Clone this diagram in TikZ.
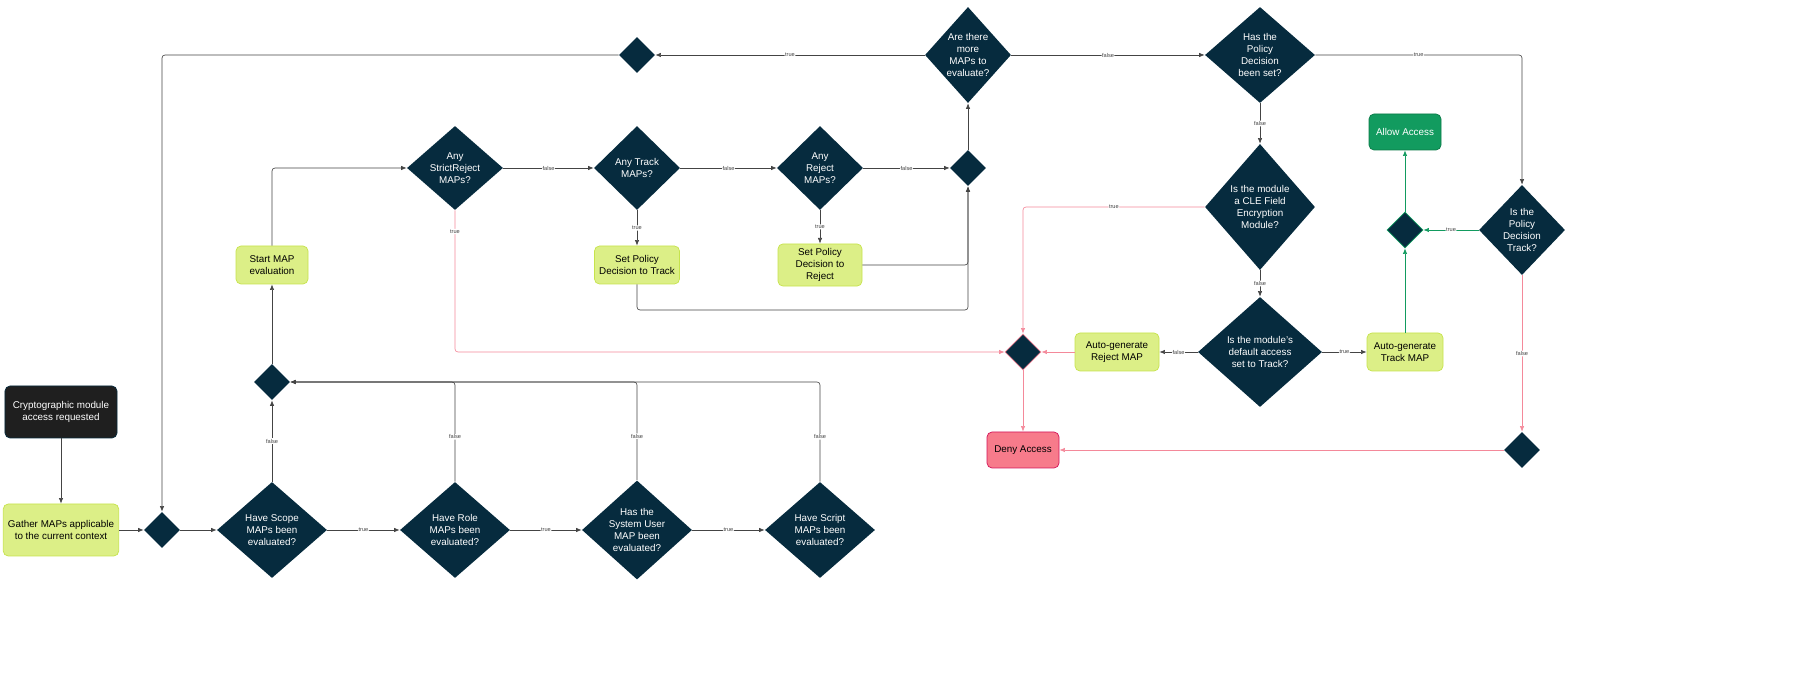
\documentclass[tikz,border=0pt]{standalone}
\usepackage{fontspec}
\setmainfont{Liberation Sans}
\usetikzlibrary{shapes.geometric,arrows.meta}
\definecolor{navy}{HTML}{062B3E}
\definecolor{lime}{HTML}{DCEF87}
\definecolor{limeb}{HTML}{C6E34C}
\definecolor{pinkl}{HTML}{F4899A}
\definecolor{rosef}{HTML}{F77B8B}
\definecolor{roseb}{HTML}{D3145A}
\definecolor{grn}{HTML}{129B5F}
\definecolor{grnb}{HTML}{0A7A48}
\definecolor{lne}{HTML}{444444}
\tikzset{
  dec/.style={diamond, fill=navy, text=white, inner sep=0pt, align=center, font=\fontsize{7}{8.4}\selectfont},
  joint/.style={diamond, fill=navy, inner sep=0pt, minimum width=9mm, minimum height=9mm},
  act/.style={rectangle, rounded corners=1.25mm, fill=lime, draw=limeb, line width=0.5pt, align=center, minimum width=21mm, minimum height=9.5mm, font=\fontsize{7}{8.4}\selectfont},
  flow/.style={draw=lne, line width=0.45pt, -{Latex[length=1.4mm,width=1.1mm]}, rounded corners=0.75mm},
  bad/.style={flow, draw=pinkl},
  good/.style={flow, draw=grn},
  lbl/.style={fill=white, inner sep=0.5pt, font=\fontsize{4}{5}\selectfont, text=lne}
}
\begin{document}
\begin{tikzpicture}[x=0.25mm,y=-0.25mm]
  \useasboundingbox (0,0) rectangle (1806,676);
  % start and gather
  \node[act, fill=black!88, draw=navy, text=white, minimum width=28mm, minimum height=13mm] (req) at (61,412) {Cryptographic module\\access requested};
  \node[act, minimum width=28mm, minimum height=13mm] (gather) at (61,530) {Gather MAPs applicable\\to the current context};
  \node[joint] (j1) at (162,530) {};
  % evaluated questions
  \node[dec, minimum width=27.5mm, minimum height=24mm] (scope) at (272,530) {Have Scope\\MAPs been\\evaluated?};
  \node[dec, minimum width=27.5mm, minimum height=24mm] (role) at (455,530) {Have Role\\MAPs been\\evaluated?};
  \node[dec, minimum width=27.5mm, minimum height=24mm] (sysuser) at (637,530) {Has the\\System User\\MAP been\\evaluated?};
  \node[dec, minimum width=27.5mm, minimum height=24mm] (script) at (820,530) {Have Script\\MAPs been\\evaluated?};
  \node[joint] (j2) at (272,382) {};
  \node[act, minimum width=18mm] (startmap) at (272,265) {Start MAP\\evaluation};
  % MAP types
  \node[dec, minimum width=24mm, minimum height=21mm] (strict) at (455,168) {Any\\StrictReject\\MAPs?};
  \node[dec, minimum width=21.5mm, minimum height=21mm] (track) at (637,168) {Any Track\\MAPs?};
  \node[dec, minimum width=21.5mm, minimum height=21mm] (reject) at (820,168) {Any\\Reject\\MAPs?};
  \node[joint] (j3) at (968,168) {};
  \node[act] (settrack) at (637,265) {Set Policy\\Decision to Track};
  \node[act] (setreject) at (820,265) {Set Policy\\Decision to\\Reject};
  \node[dec, minimum width=21.5mm, minimum height=24mm] (more) at (968,55) {Are there\\more\\MAPs to\\evaluate?};
  \node[joint] (j4) at (637,55) {};
  % policy decision
  \node[dec, minimum width=27.5mm, minimum height=24mm] (isset) at (1260,55) {Has the\\Policy\\Decision\\been set?};
  \node[dec, minimum width=27.5mm, minimum height=31.5mm] (cle) at (1260,207) {Is the module\\a CLE Field\\Encryption\\Module?};
  \node[dec, minimum width=31mm, minimum height=27.5mm] (deflt) at (1260,352) {Is the module's\\default access\\set to Track?};
  \node[act] (autorej) at (1117,352) {Auto-generate\\Reject MAP};
  \node[act, minimum width=19mm] (autotrk) at (1405,352) {Auto-generate\\Track MAP};
  \node[joint, draw=pinkl, line width=0.5pt] (j5) at (1023,352) {};
  \node[act, fill=rosef, draw=roseb, minimum width=18mm, minimum height=9mm] (deny) at (1023,450) {Deny Access};
  \node[act, fill=grn, draw=grnb, text=white, minimum width=18mm, minimum height=9mm] (allow) at (1405,132) {Allow Access};
  \node[joint, draw=grn, line width=0.5pt] (j6) at (1405,230) {};
  \node[dec, minimum width=21.5mm, minimum height=22.5mm] (istrack) at (1522,230) {Is the\\Policy\\Decision\\Track?};
  \node[joint] (j7) at (1522,450) {};
  % connectors
  \draw[flow] (req) -- (gather);
  \draw[flow] (gather) -- (j1);
  \draw[flow] (j1) -- (scope);
  \draw[flow] (scope) -- node[lbl]{true} (role);
  \draw[flow] (role) -- node[lbl]{true} (sysuser);
  \draw[flow] (sysuser) -- node[lbl]{true} (script);
  \draw[flow] (scope) -- node[lbl]{false} (j2);
  \draw[flow] (role.north) -- node[lbl, pos=0.45]{false} (455,382) -- (j2);
  \draw[flow] (sysuser.north) -- node[lbl, pos=0.45]{false} (637,382) -- (j2);
  \draw[flow] (script.north) -- node[lbl, pos=0.45]{false} (820,382) -- (j2);
  \draw[flow] (j2) -- (startmap);
  \draw[flow] (startmap) |- (strict);
  \draw[flow] (strict) -- node[lbl]{false} (track);
  \draw[flow] (track) -- node[lbl]{false} (reject);
  \draw[flow] (reject) -- node[lbl]{false} (j3);
  \draw[flow] (track) -- node[lbl]{true} (settrack);
  \draw[flow] (reject) -- node[lbl]{true} (setreject);
  \draw[flow] (settrack.south) -- (637,310) -- (968,310) -- (j3);
  \draw[flow] (setreject) -| (j3);
  \draw[flow] (j3) -- (more);
  \draw[flow] (more) -- node[lbl]{true} (j4);
  \draw[flow] (j4) -| (j1);
  \draw[flow] (more) -- node[lbl]{false} (isset);
  \draw[flow] (isset) -- node[lbl]{false} (cle);
  \draw[flow] (isset) -- node[lbl]{true} (1522,55) -- (istrack);
  \draw[bad] (cle) -- node[lbl]{true} (1023,207) -- (j5);
  \draw[flow] (cle) -- node[lbl]{false} (deflt);
  \draw[flow] (deflt) -- node[lbl]{false} (autorej);
  \draw[flow] (deflt) -- node[lbl]{true} (autotrk);
  \draw[bad] (autorej) -- (j5);
  \draw[bad] (strict) -- node[lbl, pos=0.15]{true} (455,352) -- (j5);
  \draw[bad] (j5) -- (deny);
  \draw[good] (autotrk) -- (j6);
  \draw[good] (istrack) -- node[lbl]{true} (j6);
  \draw[good] (j6) -- (allow);
  \draw[bad] (istrack) -- node[lbl]{false} (j7);
  \draw[bad] (j7) -- (deny);
\end{tikzpicture}
\end{document}
